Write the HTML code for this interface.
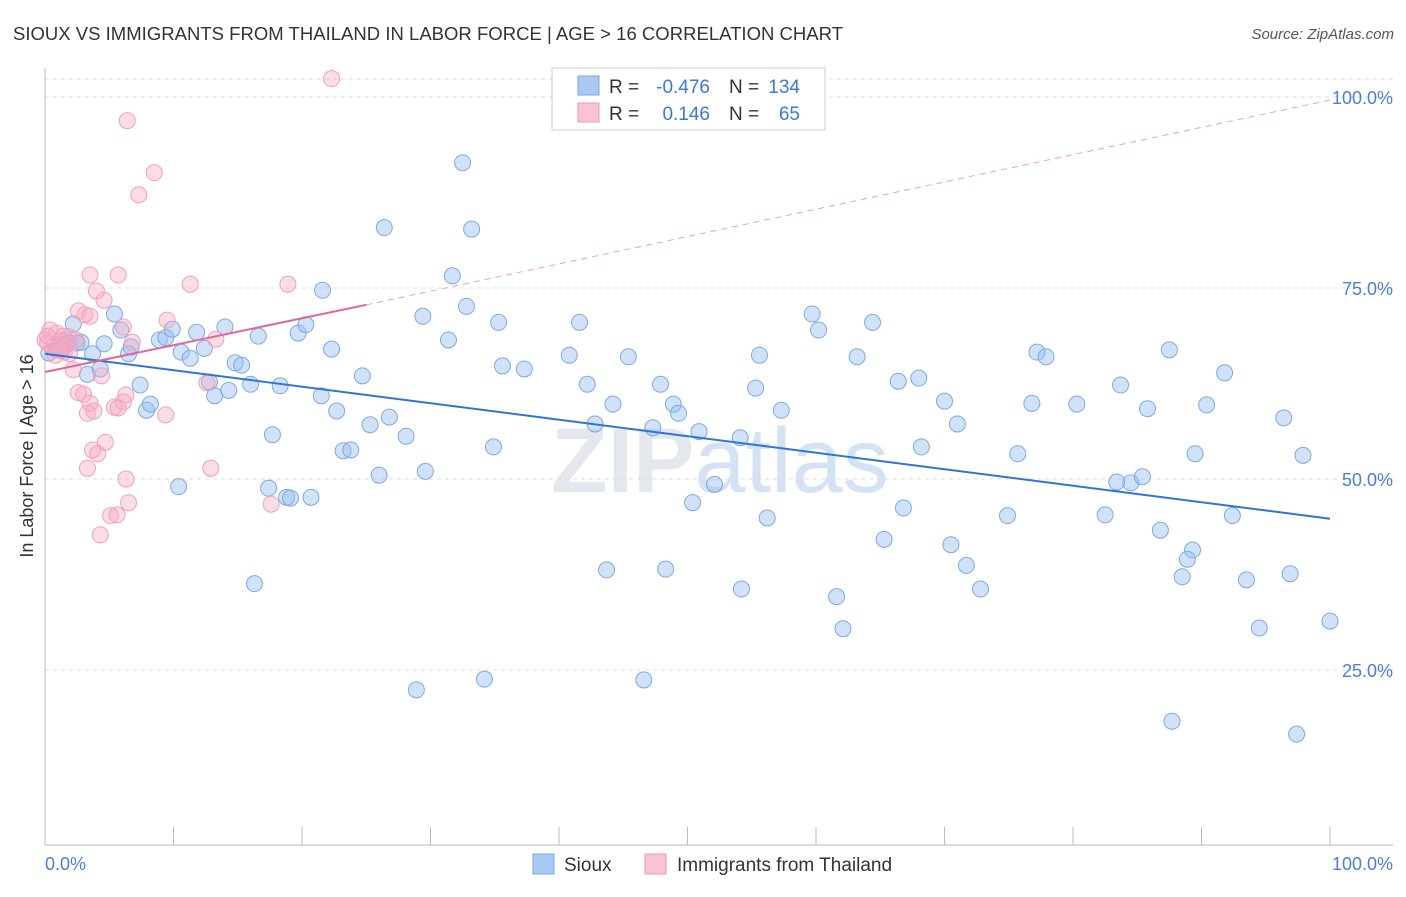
<!DOCTYPE html>
<html><head><meta charset="utf-8"><style>
body{margin:0;background:#fff;font-family:"Liberation Sans",sans-serif;}
svg text{font-family:"Liberation Sans",sans-serif;}
</style></head><body>
<svg id="chart" width="1406" height="892" viewBox="0 0 1406 892" xmlns="http://www.w3.org/2000/svg">
<text x="13" y="40" font-size="18.5" fill="#333" textLength="830">SIOUX VS IMMIGRANTS FROM THAILAND IN LABOR FORCE | AGE &gt; 16 CORRELATION CHART</text>
<text x="1394" y="39" font-size="15" fill="#555" font-style="italic" text-anchor="end">Source: ZipAtlas.com</text>
<text x="720" y="492" font-size="92" fill="#e4e8ee" text-anchor="middle" font-weight="bold">ZIP<tspan fill="#d4e2f4" font-weight="normal">atlas</tspan></text>
<g id="grid"></g><g id="axes"></g><g id="marks"></g><g id="trends"></g>
<text transform="translate(33,456) rotate(-90)" font-size="18" fill="#333" text-anchor="middle">In Labor Force | Age &gt; 16</text>
<text x="45" y="870" font-size="18" fill="#4a7fd4">0.0%</text>
<text x="1393" y="870" font-size="18" fill="#4a7fd4" text-anchor="end">100.0%</text>
<g>
<rect x="552" y="68" width="273" height="62" fill="#fff" stroke="#ccc"/>
<rect x="578" y="76" width="21" height="19" fill="#a9c8f2" stroke="#7aa6e0"/>
<rect x="578" y="103" width="21" height="19" fill="#f9c3d3" stroke="#ee9ab6"/>
<text x="609" y="93" font-size="19" fill="#333">R =</text>
<text x="710" y="93" font-size="19" fill="#3b78d8" text-anchor="end">-0.476</text>
<text x="729" y="93" font-size="19" fill="#333">N =</text>
<text x="800" y="93" font-size="19" fill="#3b78d8" text-anchor="end">134</text>
<text x="609" y="120" font-size="19" fill="#333">R =</text>
<text x="710" y="120" font-size="19" fill="#3b78d8" text-anchor="end">0.146</text>
<text x="729" y="120" font-size="19" fill="#333">N =</text>
<text x="800" y="120" font-size="19" fill="#3b78d8" text-anchor="end">65</text>
</g>
<g>
<rect x="533" y="854" width="21" height="20" fill="#a9c8f2" stroke="#7aa6e0"/>
<text x="564" y="871" font-size="19" fill="#333">Sioux</text>
<rect x="645" y="854" width="21" height="20" fill="#f9c3d3" stroke="#ee9ab6"/>
<text x="677" y="871" font-size="19" fill="#333">Immigrants from Thailand</text>
</g>
</svg>
<script>
const yTicks=[25,50,75,100];
const yTickLabels=["25.0%","50.0%","75.0%","100.0%"];
const xTicks=[0,10,20,30,40,50,60,70,80,90,100];
const siouxX=[32.5,26.4,33.2,31.7,21.6,32.8,29.4,35.3,41.6,59.7,64.4,60.2,31.4,40.8,45.4,55.6,63.2,77.2,77.9,87.5,35.6,37.3,66.4,68.0,42.2,47.9,55.3,83.7,91.8,44.2,48.9,49.3,57.3,70.0,76.8,80.3,85.8,90.4,96.4,42.8,47.3,50.9,54.1,71.0,34.9,68.2,75.7,89.5,97.9,29.6,26.0,52.1,83.4,84.5,85.4,50.4,66.8,56.2,74.9,82.5,92.4,65.3,70.5,86.8,89.3,88.9,71.7,43.7,48.3,88.5,93.5,96.9,54.2,72.8,61.6,62.1,94.5,100.0,28.9,34.2,46.6,87.7,97.4,
0.3,0.9,1.2,1.6,2.2,2.5,2.8,3.7,4.6,5.4,5.9,6.5,6.7,7.4,7.9,8.2,8.9,9.4,9.9,10.4,10.6,11.3,11.8,12.4,12.8,13.2,14.0,14.3,14.8,15.3,16.0,16.6,17.7,17.4,18.3,18.8,19.1,19.7,20.3,20.7,21.5,22.3,22.7,23.2,23.8,24.7,25.3,26.8,28.1,16.3,3.3,4.3,1.3,1.8];
const siouxY=[91.4,82.9,82.7,76.6,74.7,72.6,71.3,70.5,70.5,71.6,70.5,69.5,68.2,66.2,66.0,66.2,66.0,66.6,66.0,66.9,64.8,64.4,62.8,63.2,62.4,62.4,61.9,62.3,63.9,59.8,59.8,58.6,59.0,60.2,59.9,59.8,59.2,59.7,58.0,57.2,56.7,56.2,55.4,57.2,54.2,54.2,53.3,53.3,53.1,51.0,50.5,49.3,49.6,49.5,50.3,46.9,46.2,44.9,45.2,45.3,45.2,42.1,41.4,43.3,40.7,39.5,38.7,38.1,38.2,37.2,36.8,37.6,35.6,35.6,34.6,30.4,30.5,31.4,22.4,23.8,23.7,18.3,16.6,
66.5,66.9,67.7,68.2,70.3,67.8,67.9,66.4,67.7,71.6,69.5,66.4,67.3,62.3,59.0,59.8,68.2,68.5,69.6,49.0,66.6,65.8,69.2,67.1,62.7,60.9,69.9,61.6,65.2,64.9,62.4,68.7,55.8,48.8,62.2,47.6,47.5,69.1,70.2,47.6,60.9,67.0,58.9,53.7,53.8,63.5,57.1,58.1,55.6,36.3,63.7,64.4,66.9,67.8];
const thaiX=[22.3,6.4,8.5,7.3,3.5,5.7,11.3,18.9,4.0,4.6,2.6,3.1,3.5,9.5,6.1,0.4,0.9,1.4,1.9,2.4,0.2,0.6,1.0,1.5,1.9,6.8,13.3,0,0.2,2.2,4.4,12.6,3.0,2.6,6.3,3.5,5.4,6.1,3.3,3.8,9.4,5.7,3.7,4.1,4.7,3.3,12.9,6.3,6.5,5.1,5.6,4.3,17.6,1.2,1.6,0.8,1.2];
const thaiY=[102.4,96.9,90.1,87.2,76.7,76.7,75.5,75.5,74.6,73.4,72.0,71.5,71.3,70.8,69.9,69.5,69.1,68.7,68.6,68.2,67.8,67.3,66.9,66.6,66.4,67.9,68.3,68.2,68.7,64.3,63.5,62.6,61.1,61.3,61.0,59.9,59.4,60.1,58.6,58.9,58.4,59.3,53.8,53.3,54.8,51.4,51.4,50.0,46.9,45.2,45.3,42.7,46.7,68.1,67.5,66.2,67.0];
const siouxTrend=[66.4,44.8];
const thaiTrend=[64.0,72.8,99.6];
const thaiSolidEnd=25;

const NS="http://www.w3.org/2000/svg";
const X=v=>45+v*12.85;
const Y=v=>861-v*7.64;
function mk(tag,attrs,parent){const e=document.createElementNS(NS,tag);for(const k in attrs)e.setAttribute(k,attrs[k]);document.getElementById(parent).appendChild(e);return e;}
mk('line',{x1:45,x2:1393,y1:79,y2:79,stroke:'#ddd','stroke-dasharray':'4,4'},'grid');
yTicks.forEach((t,i)=>{
  const l=mk('line',{x1:45,x2:1393,y1:Y(t),y2:Y(t),stroke:'#ddd','stroke-dasharray':'4,4'},'grid');
  
  
  const tx=mk('text',{x:1393,y:Y(t)+7,'font-size':18,fill:'#4a7fd4','text-anchor':'end'},'grid');
  tx.textContent=yTickLabels[i];
  
  
});
const ya=mk('line',{x1:45,x2:45,y1:68,y2:845,stroke:'#bbb'},'axes');


const xa=mk('line',{x1:45,x2:1393,y1:845,y2:845,stroke:'#bbb'},'axes');


xTicks.forEach(t=>{
  const l=mk('line',{x1:X(t),x2:X(t),y1:827,y2:845,stroke:'#bbb'},'axes');
  
  
});
siouxX.forEach((x,i)=>{
  const c=mk('circle',{cx:X(x),cy:Y(siouxY[i]),r:8,fill:'rgba(150,190,240,0.45)',stroke:'#7fa9e2','stroke-width':1},'marks');
  
  
});
thaiX.forEach((x,i)=>{
  const c=mk('circle',{cx:X(x),cy:Y(thaiY[i]),r:8,fill:'rgba(246,170,196,0.4)',stroke:'#f0a0bc','stroke-width':1},'marks');
  
  
});
const bt=mk('line',{x1:X(0),y1:Y(siouxTrend[0]),x2:X(100),y2:Y(siouxTrend[1]),stroke:'#2f74d8','stroke-width':2},'trends');


const pd=mk('line',{x1:X(thaiSolidEnd),y1:Y(thaiTrend[1]),x2:X(100),y2:Y(thaiTrend[2]),stroke:'#eaa0b8','stroke-width':1,'stroke-dasharray':'6,5'},'trends');


const pt=mk('line',{x1:X(0),y1:Y(thaiTrend[0]),x2:X(thaiSolidEnd),y2:Y(thaiTrend[1]),stroke:'#e2669a','stroke-width':2},'trends');


</script>
</body></html>
